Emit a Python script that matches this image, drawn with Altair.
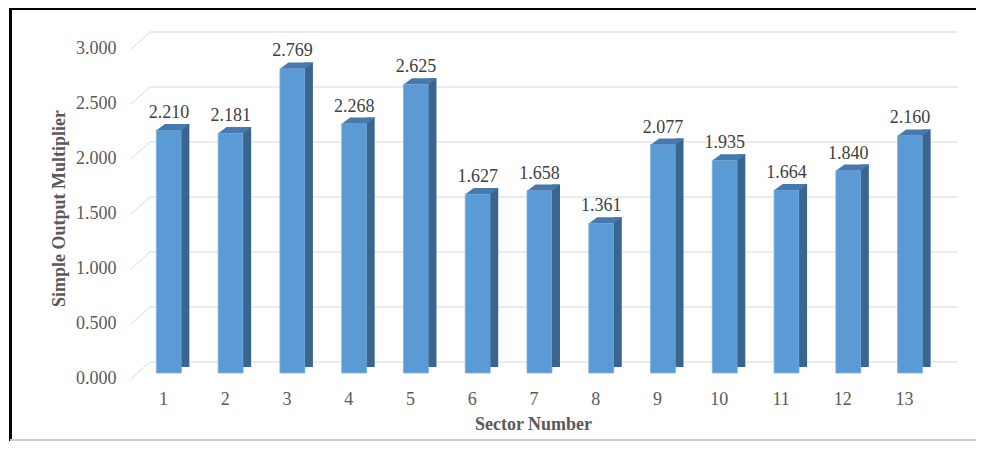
import altair as alt
import pandas as pd

sectors = list(range(1, 14))
multipliers = [2.210, 2.181, 2.769, 2.268, 2.625, 1.627, 1.658, 1.361, 2.077, 1.935, 1.664, 1.840, 2.160]
y_ticks = [0.0, 0.5, 1.0, 1.5, 2.0, 2.5, 3.0]

df = pd.DataFrame({"sector": sectors, "value": multipliers})
grid_df = pd.DataFrame({"tick": y_ticks})

FONT = "Liberation Serif"
FRONT = "#5B9BD5"
SIDE = "#3A658F"
TOP = "#4779AE"

x_scale = alt.Scale(domain=[0.5, 13.5], nice=False, zero=False, padding=0)
y_scale = alt.Scale(domain=[0, 3], nice=False)

x_axis = alt.Axis(values=sectors, format="d", grid=False, domain=False, ticks=False,
                  labelFont=FONT, labelFontSize=18, labelColor="#595959",
                  labelPadding=26, labelBaseline="middle", labelOffset=-6,
                  title="Sector Number", titleFont=FONT, titleFontSize=18,
                  titleFontWeight="bold", titleColor="#595959",
                  titleX=395, titleY=51, titleBaseline="middle")
y_axis = alt.Axis(values=y_ticks, format=".3f", grid=False, domain=False, ticks=False,
                  labelFont=FONT, labelFontSize=18, labelColor="#595959",
                  labelPadding=22, labelOffset=5,
                  title="Simple Output Multiplier", titleFont=FONT, titleFontSize=18,
                  titleFontWeight="bold", titleColor="#595959",
                  titleX=-79, titleY=165, titleAngle=270, titleAlign="center",
                  titleBaseline="middle")

base = alt.Chart(df)
gbase = alt.Chart(grid_df)

grid = gbase.mark_rule(color="#d9d9d9", strokeWidth=1, yOffset=-11).encode(
    y=alt.Y("tick:Q", scale=y_scale, axis=y_axis),
    x=alt.value(12), x2=alt.value(820))
diag = gbase.mark_rule(color="#d9d9d9", strokeWidth=1, yOffset=6, y2Offset=-11).encode(
    y=alt.Y("tick:Q", scale=y_scale), y2="tick:Q",
    x=alt.value(-7), x2=alt.value(12))

front = base.mark_bar(size=25, color=FRONT, stroke="#7FB1E3", strokeWidth=0.8).encode(
    x=alt.X("sector:Q", scale=x_scale, axis=x_axis),
    y=alt.Y("value:Q", scale=y_scale))
side = base.mark_bar(size=8, color=SIDE, xOffset=16.5, yOffset=-6).encode(
    x=alt.X("sector:Q", scale=x_scale),
    y=alt.Y("value:Q", scale=y_scale))
bottom_tri = base.mark_point(
    shape="M 1.3 -0.85 L 1.3 1.0 L -1.0 1.0 L -1.0 0.75 Z",
    filled=True, color="white", opacity=1, size=64, strokeWidth=0,
    xOffset=16.5, yOffset=-3).encode(
    x=alt.X("sector:Q", scale=x_scale),
    y=alt.datum(0))
top = base.mark_point(
    shape="M -1 0.182 L 0.515 0.182 L 1 -0.182 L -0.515 -0.182 Z",
    filled=True, color=TOP, opacity=1, size=1089, strokeWidth=0,
    xOffset=4.5, yOffset=-3).encode(
    x=alt.X("sector:Q", scale=x_scale),
    y=alt.Y("value:Q", scale=y_scale))
labels = base.mark_text(font=FONT, fontSize=18, color="#404040", dy=-17,
                        baseline="middle").encode(
    x=alt.X("sector:Q", scale=x_scale),
    y=alt.Y("value:Q", scale=y_scale),
    text=alt.Text("value:Q", format=".3f"))

frame_top = base.mark_rect(color="black", strokeWidth=0).encode(
    x=alt.value(-128), x2=alt.value(838), y=alt.value(-36), y2=alt.value(-33))
frame_left = base.mark_rect(color="black", strokeWidth=0).encode(
    x=alt.value(-129), x2=alt.value(-126), y=alt.value(-36), y2=alt.value(398))
frame_bottom = base.mark_rect(color="#cccccc", strokeWidth=0).encode(
    x=alt.value(-128), x2=alt.value(838), y=alt.value(396), y2=alt.value(397.5))

chart = alt.layer(grid, diag, front, side, bottom_tri, top, labels,
                  frame_top, frame_left, frame_bottom).properties(
    width=803, height=330,
    autosize=alt.AutoSizeParams(type="none"),
    padding={"left": 130, "top": 35, "right": 35, "bottom": 68},
).configure_view(stroke=None)

chart.save("out.html", embed_options={"renderer": "svg", "actions": False})
